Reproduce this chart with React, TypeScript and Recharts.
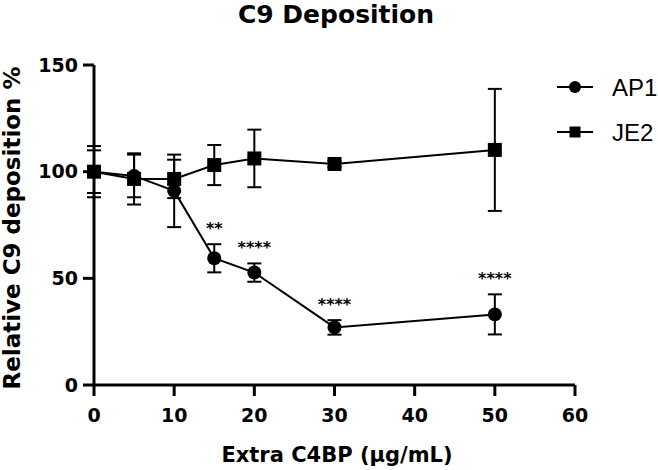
import { ErrorBar, Label, LabelList, Line, LineChart, XAxis, YAxis } from "recharts";

const doses = [0, 5, 10, 15, 20, 30, 50];
const ap1 = [100, 98, 91, 59.4, 52.7, 27, 33.1];
const ap1Err = [12, 10, 17, 6.6, 4.3, 3.4, 9.4];
const je2 = [100, 96.6, 96.6, 103.1, 106.2, 103.6, 110.2];
const je2Err = [10, 12, 9, 9.4, 13.5, 1.5, 28.6];
const ap1Sig = ["", "", "", "**", "****", "****", "****"];
const xTicks = [0, 10, 20, 30, 40, 50, 60];
const yTicks = [0, 50, 100, 150];
const seriesNames = ["AP1", "JE2"];

const data = doses.map((d, i) => ({
  dose: d,
  ap1: ap1[i],
  ap1Err: ap1Err[i],
  ap1Top: ap1[i] + ap1Err[i],
  sig: ap1Sig[i],
  je2: je2[i],
  je2Err: je2Err[i],
}));

const bold = { fill: "#000", fontSize: 19, fontWeight: 700, fontFamily: "DejaVu Sans" };

function SquareDot(props: any) {
  const { cx, cy, index } = props;
  if (cx == null || cy == null) return null;
  return <rect key={`sq-${index}`} x={cx - 7} y={cy - 7} width={14} height={14} fill="#000" />;
}

function SigLabel(props: any) {
  const { x, y, value } = props;
  if (!value) return null;
  return (
    <text
      x={x}
      y={y - 10}
      textAnchor="middle"
      fontFamily="DejaVu Sans"
      fontWeight={700}
      fontSize={16}
      fill="#000"
    >
      {value}
    </text>
  );
}

function YTitle() {
  return (
    <text
      transform="translate(20, 228) rotate(-90)"
      textAnchor="middle"
      fontFamily="DejaVu Sans"
      fontWeight={700}
      fontSize={23}
      fill="#000"
    >
      Relative C9 deposition %
    </text>
  );
}

function XTitle() {
  return (
    <text
      x={337}
      y={462}
      textAnchor="middle"
      fontFamily="DejaVu Sans"
      fontWeight={700}
      fontSize={21}
      fill="#000"
    >
      Extra C4BP (µg/mL)
    </text>
  );
}

export default function App() {
  return (
    <div style={{ position: "absolute", left: 0, top: 0, width: 658, height: 470, background: "#fff" }}>
      <LineChart
        width={658}
        height={470}
        data={data}
        margin={{ top: 65, right: 83, bottom: 0, left: 0 }}
      >
        <XAxis
          dataKey="dose"
          type="number"
          domain={[0, 60]}
          ticks={xTicks}
          height={85}
          tick={bold}
          tickSize={11}
          tickMargin={13}
          axisLine={{ stroke: "#000", strokeWidth: 3 }}
          tickLine={{ stroke: "#000", strokeWidth: 3 }}
        >
          <Label content={XTitle} />
        </XAxis>
        <YAxis
          type="number"
          domain={[0, 150]}
          ticks={yTicks}
          width={94}
          tick={bold}
          tickSize={11}
          tickMargin={5}
          axisLine={{ stroke: "#000", strokeWidth: 3 }}
          tickLine={{ stroke: "#000", strokeWidth: 3 }}
        >
          <Label content={YTitle} />
        </YAxis>
        <Line
          dataKey="ap1"
          type="linear"
          stroke="#000"
          strokeWidth={2}
          dot={{ r: 7, fill: "#000", stroke: "#000", strokeWidth: 0 }}
          activeDot={false}
          isAnimationActive={false}
        >
          <ErrorBar dataKey="ap1Err" direction="y" width={7} stroke="#000" strokeWidth={2} />
        </Line>
        <Line
          dataKey="je2"
          type="linear"
          stroke="#000"
          strokeWidth={2}
          dot={SquareDot}
          activeDot={false}
          isAnimationActive={false}
        >
          <ErrorBar dataKey="je2Err" direction="y" width={7} stroke="#000" strokeWidth={2} />
        </Line>
        <Line
          dataKey="ap1Top"
          stroke="none"
          dot={false}
          activeDot={false}
          isAnimationActive={false}
        >
          <LabelList dataKey="sig" content={SigLabel} />
        </Line>
      </LineChart>
      <svg width={658} height={470} style={{ position: "absolute", left: 0, top: 0, pointerEvents: "none" }}>
        <text
          x={336}
          y={23}
          textAnchor="middle"
          fontFamily="DejaVu Sans"
          fontWeight={700}
          fontSize={25}
          fill="#000"
        >
          C9 Deposition
        </text>
        {seriesNames.map((name, i) => {
          const y = 87 + i * 45;
          return (
            <g key={name}>
              <line x1={557} x2={593} y1={y} y2={y} stroke="#000" strokeWidth={2} />
              {i === 0 ? (
                <circle cx={575} cy={y} r={6} fill="#000" />
              ) : (
                <rect x={569.5} y={y - 5.5} width={11} height={11} fill="#000" />
              )}
              <text x={612} y={y + 9} fontFamily="Liberation Sans" fontSize={24} fill="#000">
                {name}
              </text>
            </g>
          );
        })}
      </svg>
    </div>
  );
}
